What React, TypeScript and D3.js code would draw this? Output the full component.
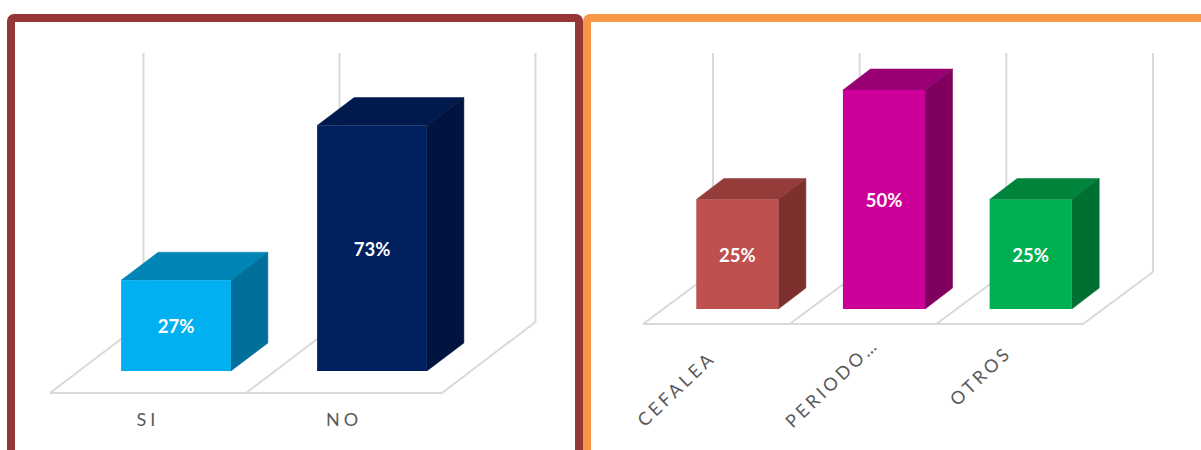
import React from "react";
import * as d3 from "d3";

const WIDTH = 1201;
const HEIGHT = 450;

// First panel: yes / no answers
const answerCategories = ["SI", "NO"];
const answerValues = [27, 73];
const answerColors = [
  { front: "#00b0f0", top: "#0085b6", side: "#006f9c" },
  { front: "#002060", top: "#001a4d", side: "#00143f" },
];

// Second panel: reported symptoms
const symptomCategories = ["CEFALEA", "PERIODO…", "OTROS"];
const symptomValues = [25, 50, 25];
const symptomColors = [
  { front: "#c0504d", top: "#943c39", side: "#7d302e" },
  { front: "#cc0099", top: "#990073", side: "#80005f" },
  { front: "#00b050", top: "#00843c", side: "#006f32" },
];

const GRID = "#d9d9d9";
const LABEL = "#595959";
const FONT = "Lato, 'Open Sans', sans-serif";

type Colors = { front: string; top: string; side: string };

type PanelProps = {
  categories: string[];
  values: number[];
  colors: Colors[];
  floorLeft: number;
  floorRight: number;
  floorFrontY: number;
  floorBackY: number;
  floorShift: number;
  barBaseY: number;
  barGap: number;
  barInset: number;
  depthX: number;
  depthY: number;
  domainMax: number;
  plotTopY: number;
  labelY: number;
  // When present, labels are slanted and centred at these offsets from each band centre.
  slantOffsets?: [number, number][];
};

function pts(list: [number, number][]) {
  return list.map((p) => p.join(",")).join(" ");
}

// A 3D column panel: a floor parallelogram, back-wall drop lines and extruded bars.
function Panel(p: PanelProps) {
  // Band scale along the floor's front edge, used for the grid divisions and labels.
  const floor = d3
    .scaleBand<string>()
    .domain(p.categories)
    .range([p.floorLeft, p.floorRight])
    .padding(0);

  // Bars sit part-way back on the floor, so their band is shifted by barInset.
  const bars = d3
    .scaleBand<string>()
    .domain(p.categories)
    .range([p.floorLeft + p.barInset, p.floorRight + p.barInset])
    .paddingInner(p.barGap)
    .paddingOuter(p.barGap / 2);

  const y = d3
    .scaleLinear()
    .domain([0, p.domainMax])
    .range([p.barBaseY, p.barBaseY - (p.floorBackY - p.plotTopY)]);

  const floorEdges = [...p.categories.map((c) => floor(c) as number), p.floorRight];
  const bw = bars.bandwidth();

  return (
    <g>
      {floorEdges.map((x, i) => (
        <g key={i} fill="none" stroke={GRID} strokeWidth={2}>
          <line x1={x + p.floorShift} x2={x + p.floorShift} y1={p.plotTopY} y2={p.floorBackY} />
          <line x1={x} x2={x + p.floorShift} y1={p.floorFrontY} y2={p.floorBackY} />
        </g>
      ))}
      <line
        x1={p.floorLeft}
        x2={p.floorRight}
        y1={p.floorFrontY}
        y2={p.floorFrontY}
        stroke={GRID}
        strokeWidth={2}
      />
      {p.categories.map((c, i) => {
        const x0 = bars(c) as number;
        const x1 = x0 + bw;
        const top = y(p.values[i]);
        const base = p.barBaseY;
        const col = p.colors[i];
        return (
          <g key={c}>
            <polygon
              fill={col.top}
              stroke={col.top}
              strokeWidth={0.5}
              points={pts([
                [x0, top],
                [x0 + p.depthX, top - p.depthY],
                [x1 + p.depthX, top - p.depthY],
                [x1, top],
              ])}
            />
            <polygon
              fill={col.side}
              stroke={col.side}
              strokeWidth={0.5}
              points={pts([
                [x1, top],
                [x1 + p.depthX, top - p.depthY],
                [x1 + p.depthX, base - p.depthY],
                [x1, base],
              ])}
            />
            <rect x={x0} y={top} width={bw} height={base - top} fill={col.front} />
            <text
              x={(x0 + x1) / 2}
              y={(top + base) / 2}
              dy="0.42em"
              textAnchor="middle"
              fill="#ffffff"
              fontFamily={FONT}
              fontWeight={700}
              fontSize={18.5}
            >
              {p.values[i]}%
            </text>
          </g>
        );
      })}
      {p.categories.map((c, i) => {
        const center = (floor(c) as number) + floor.bandwidth() / 2;
        if (p.slantOffsets) {
          const [dx, yPos] = p.slantOffsets[i];
          return (
            <text
              key={c}
              transform={`translate(${center + dx},${yPos}) rotate(-43.5)`}
              textAnchor="middle"
              dy="0.35em"
              fill={LABEL}
              fontFamily={FONT}
              fontSize={18}
              letterSpacing={3.4}
            >
              {c}
            </text>
          );
        }
        return (
          <text
            key={c}
            x={center}
            y={p.labelY}
            textAnchor="middle"
            fill={LABEL}
            fontFamily={FONT}
            fontSize={18}
            letterSpacing={4}
          >
            {c}
          </text>
        );
      })}
    </g>
  );
}

export default function App() {
  return (
    <svg
      width={WIDTH}
      height={HEIGHT}
      viewBox={`0 0 ${WIDTH} ${HEIGHT}`}
      style={{ position: "absolute", left: 0, top: 0, background: "#ffffff" }}
    >
      <rect x={11} y={18} width={568} height={460} rx={3} fill="#ffffff" stroke="#953735" strokeWidth={8} />
      <rect x={587} y={18} width={700} height={460} rx={3} fill="#ffffff" stroke="#f79646" strokeWidth={8} />
      <Panel
        categories={answerCategories}
        values={answerValues}
        colors={answerColors}
        floorLeft={50}
        floorRight={442}
        floorFrontY={393}
        floorBackY={322}
        floorShift={93.5}
        barBaseY={371}
        barGap={0.44}
        barInset={28}
        depthX={37}
        depthY={28}
        domainMax={80}
        plotTopY={53}
        labelY={426}
      />
      <Panel
        categories={symptomCategories}
        values={symptomValues}
        colors={symptomColors}
        floorLeft={643}
        floorRight={1083}
        floorFrontY={324}
        floorBackY={272}
        floorShift={70}
        barBaseY={309}
        barGap={0.44}
        barInset={21}
        depthX={27.5}
        depthY={21}
        domainMax={50}
        plotTopY={53}
        labelY={350}
        slantOffsets={[
          [-40, 389],
          [-31, 383],
          [-29, 376],
        ]}
      />
    </svg>
  );
}
